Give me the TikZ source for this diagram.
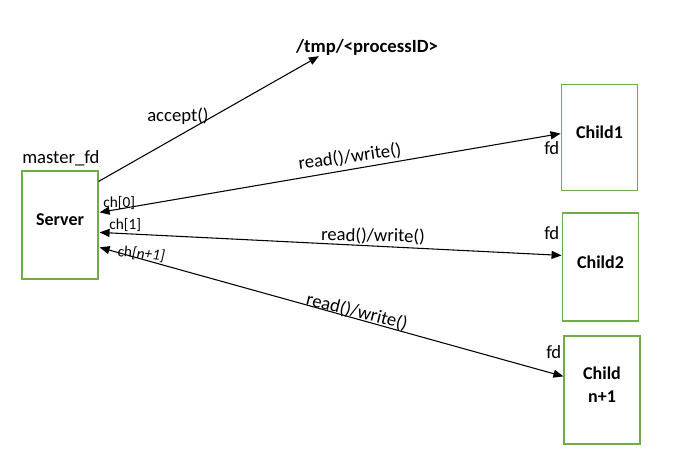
\documentclass[tikz,border=0pt]{standalone}
\usepackage{fontspec}
\setmainfont{Carlito}
\usetikzlibrary{arrows.meta,calc}
\definecolor{boxgreen}{RGB}{112,173,71}
\begin{document}
\begin{tikzpicture}[x=0.75pt,y=-0.75pt,
  box/.style={draw=boxgreen,line width=0.9pt,inner sep=0pt},
  txt/.style={inner sep=0pt,font=\fontsize{14}{16}\selectfont},
  btxt/.style={inner sep=0pt,font=\fontsize{13.5}{17}\selectfont\bfseries,align=center},
  small/.style={inner sep=0pt,font=\fontsize{11.5}{13}\selectfont},
  conn/.style={line width=0.8pt,-{Triangle[length=7.5pt,width=6pt]}},
  biconn/.style={line width=0.8pt,{Triangle[length=7.5pt,width=6pt]}-{Triangle[length=7.5pt,width=6pt]}}]
\useasboundingbox (0,0) rectangle (675,453);
% boxes
\node[box,minimum width=57pt,minimum height=81pt] (server) at (60,225) {};
\node[box,minimum width=57.5pt,minimum height=80pt] (child1) at (599.5,137.5) {};
\node[box,minimum width=57.5pt,minimum height=81pt] (child2) at (600.5,267) {};
\node[box,minimum width=57pt,minimum height=81pt] (childn) at (602,390) {};
% box texts
\node[btxt] (servertxt) at ($(server.center)+(0,-5)$) {Server};
\node[btxt] (child1txt) at ($(child1.center)+(0,-5)$) {Child1};
\node[btxt] (child2txt) at ($(child2.center)+(0,-5)$) {Child2};
\node[btxt] (childntxt) at ($(childn.center)+(0,-5)$) {Child\\n+1};
% labels
\node[txt,anchor=base west] (master) at (22,163) {master\_fd};
\node[txt,anchor=base,font=\fontsize{14}{17}\selectfont\bfseries] (tmp) at (367,53) {/tmp/<processID>};
\node[txt,anchor=base west] (accept) at (147,122) {accept()};
\node[small,anchor=base west] (ch0) at (103,207) {ch[0]};
\node[small,anchor=base west] (ch1) at (109,229) {ch[1]};
\node[small,anchor=base west,rotate=-6] (chn) at (117,256) {ch\textit{[n+1]}};
\node[txt,anchor=base west] (fd1) at (544,154) {fd};
\node[txt,anchor=base west] (fd2) at (544,239) {fd};
\node[txt,anchor=base west] (fdn) at (546,358) {fd};
\node[txt,rotate=8] (rw1) at (350,157) {read()/write()};
\node[txt,rotate=-1] (rw2) at (373,236) {read()/write()};
\node[txt,rotate=-14] (rw3) at (357,312) {read()/write()};
% connectors
\draw[conn] ($(server.north east)+(0,11)$) -- ($(tmp.south west)+(23,0)$);
\draw[biconn] ($(server.north east)+(1,42)$) -- ($(child1.north west)+(0,50)$);
\draw[biconn] ($(server.north east)+(1,62)$) -- ($(child2.north west)+(0,43)$);
\draw[biconn] ($(server.north east)+(1,77)$) -- ($(childn.north west)+(0,41)$);
\end{tikzpicture}
\end{document}
